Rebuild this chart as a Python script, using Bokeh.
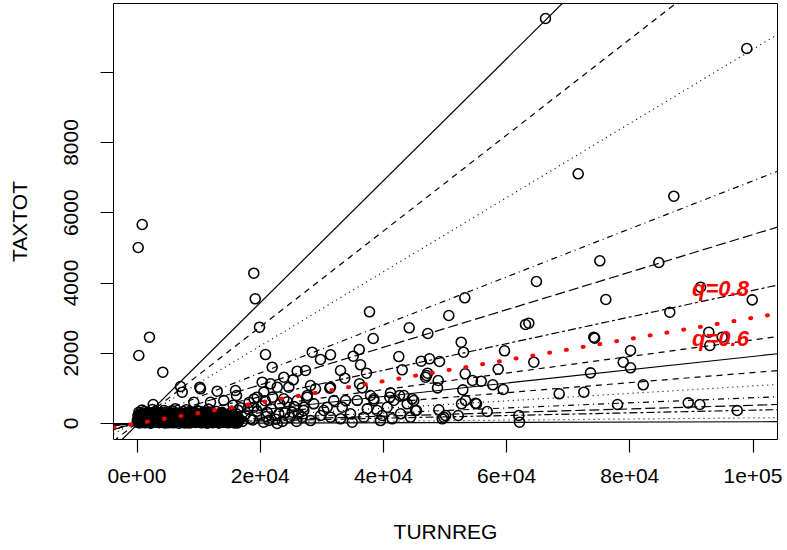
from bokeh.plotting import figure
from bokeh.models import Range1d, FixedTicker, Label
from bokeh.embed import file_html
from bokeh.resources import INLINE

# ---- data ----
# scattered observations (TURNREG, TAXTOT)
sx = [844, 195, 18961, 19188, 19887, 2029, 292, 4188, 20860, 21948, 7062, 7338, 10308, 13020, 15990, 2630,
      26007, 27354, 66316, 98993, 71623, 87148, 75135, 84711, 64845, 76109, 91478, 99874, 63069, 63610,
      86494, 74157, 74300, 92828, 92990, 95000, 80117, 78929, 80117, 64420, 73621, 82177, 68539, 72540,
      78005, 89482, 91365, 97437, 53215, 37744, 50618, 44188, 47209, 38344, 31413, 36072, 35098, 36283,
      33036, 33735, 37256, 42501, 43053, 46137, 47485, 49108, 52631, 53004, 59660, 58637, 47160, 46836,
      48897, 48783, 53280, 54466, 55878, 57760, 59449, 52891, 42614, 36121, 36559, 41153, 38442, 44675,
      45374, 48994, 52680, 53329, 52145, 49806, 54953, 56851, 61983, 62096, 31413, 28442, 29790, 46998,
      28166, 28978, 31300, 55115, 50082, 49546, 44936]
sy = [5666, 5011, 4279, 3550, 2742, 2457, 1936, 1461, 1964, 1603, 1053, 891, 988, 920, 940, 541,
      1489, 1509, 11530, 10676, 7109, 6471, 4632, 4584, 4043, 3530, 3881, 3521, 2819, 2856,
      3169, 2457, 2430, 2599, 2221, 2457, 2078, 1745, 1586, 1745, 1443, 1102, 846, 891,
      541, 589, 541, 370, 3579, 3180, 3075, 2725, 2562, 2420, 1956, 2107, 1916, 1671,
      1509, 1290, 1432, 1907, 1529, 1774, 1842, 1765, 2315, 2030, 2070, 1546, 1432, 1318,
      1224, 1016, 1415, 1224, 1204, 1102, 968, 959, 797, 1130, 1016, 874, 703, 703,
      370, 390, 561, 655, 228, 180, 578, 342, 228, 38, 1034, 2030, 1822, 1367,
      1082, 988, 1005, 561, 228, 134, 655]

# moderately dense zone
mx = [10195, 16153, 20325, 21673, 22760, 23832, 25357, 24642, 27630, 19513, 20585, 23832, 26007, 27078,
      11932, 14091, 9221, 18961, 21137, 23020, 25195, 26819, 22760, 20536, 18425,
      15200, 16000, 16800, 17500, 18200, 18800, 19500, 20200, 21000, 21800, 22500, 23200, 24000, 24800,
      25500, 26200, 15600, 17100, 19000, 20800, 22000, 24400, 25900, 16400, 18000, 21400, 23600,
      27630, 28702, 30325, 31949, 33312, 34660, 35747, 37371, 38442, 39806, 40617, 41689, 42776, 43864,
      45212, 28166, 31413, 34935, 39530, 44400, 29790, 33036, 36819, 41429, 27078, 30877, 33848, 37906,
      38993, 41040, 43313]
my = [1034, 797, 1176, 1130, 1034, 1318, 1244, 1034, 797, 749, 891, 703, 655, 464,
      606, 655, 606, 464, 322, 276, 322, 180, 0, 38, 134,
      300, 150, 450, 250, 600, 100, 350, 500, 200, 420, 120, 550, 300, 180,
      480, 280, 520, 60, 700, 650, 750, 620, 60, 380, 420, 90, 60,
      749, 561, 370, 655, 464, 276, 655, 418, 655, 228, 464, 655, 276, 561,
      370, 85, 180, 38, 85, 180, 228, 134, 180, 134, 370, 464, 655, 797,
      370, 749, 797]

# dense core near the origin
cx = [100, 450, 900, 1300, 1800, 2200, 2700, 3100, 3600, 4100, 4500, 5000, 5400, 5900, 6300, 6800, 7300,
      7700, 8200, 8600, 9100, 9500, 10000, 10500, 10900, 11400, 11800, 12300, 12800, 13300, 13800,
      250, 700, 1100, 1550, 2000, 2450, 2900, 3350, 3800, 4300, 4750, 5200, 5650, 6100, 6550, 7000,
      7500, 7950, 8400, 8850, 9300, 9800, 10250, 10700, 11150, 11600, 12100, 12550, 13050, 13550, 14100,
      150, 600, 1000, 1450, 1900, 2350, 2800, 3250, 3700, 4200, 4650, 5100, 5550, 6000, 6450, 6900,
      7400, 7850, 8300, 8750, 9200, 9700, 10150, 10600, 11050, 11500, 12000, 12450, 12950, 13450,
      300, 1200, 2100, 3000, 3900, 4800, 5700, 6600, 7500, 8400, 9300, 10200, 11100, 12000, 12900,
      13800, 800, 2500, 4400, 6200, 8000, 9800, 11600]
cy = [30, 15, 45, 20, 60, 10, 35, 50, 25, 40, 15, 55, 30, 20, 45, 10, 35,
      60, 25, 15, 50, 30, 40, 20, 55, 10, 35, 25, 45, 15, 30,
      120, 140, 100, 150, 130, 110, 145, 125, 105, 135, 150, 115, 140, 100, 130, 120,
      145, 110, 135, 125, 150, 105, 140, 115, 130, 100, 145, 120, 135, 110, 125,
      220, 240, 205, 250, 230, 215, 260, 225, 245, 210, 235, 255, 220, 240, 200, 230,
      250, 215, 245, 225, 205, 240, 260, 220, 235, 210, 250, 230, 215, 240,
      320, 340, 300, 350, 310, 330, 360, 300, 340, 320, 310, 350, 330, 300, 340,
      320, 380, 400, 370, 420, 390, 360, 410]

# further observations inside the dense core
ex = [50, 550, 1000, 1500, 1950, 2400, 2850, 3300, 3750, 4200, 4700, 5150, 5600, 6050, 6500, 6950,
      7450, 7900, 8350, 8800, 9250, 9750, 10200, 10650, 11100, 11550, 12050, 12500, 13000, 13500,
      14000, 14500, 15000, 15500, 16000, 16500,
      350, 800, 1250, 1700, 2150, 2600, 3050, 3500, 3950, 4400, 4900, 5350, 5800, 6250, 6700, 7150,
      7650, 8100, 8550, 9000, 9450, 9950, 10400, 10850, 11300, 11750, 12250, 12700, 13200, 13700,
      14250, 14750, 15250, 15750, 16250,
      500, 1700, 2900, 4100, 5300, 6500, 7700, 8900, 10100, 11300, 12500, 13700, 14700, 15600, 16400,
      1100, 3500, 5900, 8300, 10700, 13100,
      14300, 14800, 15300, 15800, 16300, 14600, 15100, 15600, 16100, 16600, 14400, 14900, 15400, 15900]
ey = [80, 70, 90, 75, 85, 65, 95, 70, 80, 90, 75, 85, 65, 80, 95, 70,
      85, 75, 90, 65, 80, 70, 95, 85, 75, 90, 70, 80, 65, 85,
      75, 90, 70, 80, 85, 65,
      180, 172, 191, 166, 184, 177, 196, 169, 181, 188, 163, 186, 174, 193, 171, 182,
      189, 167, 185, 176, 194, 170, 179, 192, 164, 187, 175, 197, 168, 183,
      190, 162, 186, 173, 195,
      270, 285, 260, 290, 275, 265, 280, 295, 270, 285, 260, 275, 240, 210, 160,
      290, 280, 300, 270, 290, 265,
      30, 20, 45, 15, 35, 130, 115, 140, 105, 120, 230, 215, 190, 205]

gx = [200, 650, 1150, 1600, 2050, 2500, 2950, 3400, 3850, 4350, 4800, 5250, 5700, 6150, 6600, 7050,
      7550, 8000, 8450, 8900, 9400, 9850, 10300, 10750, 11200, 11650, 12150, 12600, 13100, 13600,
      14150, 14650, 15150, 15650, 16150,
      420, 870, 1380, 1820, 2280, 2720, 3180, 3620, 4080, 4520, 5000, 5450, 5900, 6380, 6820, 7280,
      7720, 8180, 8620, 9080, 9550, 10000, 10480, 10920, 11380, 11820, 12300, 12780, 13250, 13720,
      14300, 14800, 15300, 15800, 16300]
gy = [50, 110, 160, 210, 260, 300, 45, 105, 155, 205, 255, 310, 40, 100, 150, 200,
      250, 290, 55, 115, 165, 215, 265, 305, 35, 95, 145, 195, 245, 285,
      60, 120, 170, 220, 270,
      260, 200, 140, 90, 25, 310, 250, 190, 130, 80, 20, 300, 245, 185, 125, 70,
      15, 295, 255, 195, 135, 85, 30, 305, 240, 180, 120, 75, 22, 290,
      235, 175, 110, 60, 18]

# quantile regression lines (intercept, slope), top to bottom
line_intercepts = [-35, 20, 95, 70, 30, 0, 20, 10, 20, 10, 5, 0, 0, 0, 0]
line_slopes = [0.1737, 0.1365, 0.1056, 0.0684, 0.0535, 0.0379, 0.0236, 0.019, 0.0143, 0.0106,
               0.0073, 0.0052, 0.0038, 0.0016, 0.0005]
line_styles = ["solid", "6 5", "1 4", "1 4 6 4", "10 4", "3 3 8 3",
               "6 5", "solid", "6 5", "1 4", "1 4 6 4", "10 4", "3 3 8 3",
               "1 4", "solid"]
red_intercept = 0
red_slope = 0.0301

q_labels = ["q=0.8", "q=0.6"]
q_label_x = [94725, 94725]
q_label_y = [3843, 2420]

x_ticks = [0, 20000, 40000, 60000, 80000, 100000]
x_tick_labels = ["0e+00", "2e+04", "4e+04", "6e+04", "8e+04", "1e+05"]
y_ticks = [0, 2000, 4000, 6000, 8000, 10000]
y_tick_labels = ["0", "2000", "4000", "6000", "8000", ""]

X0, X1 = -3815, 103977
Y0, Y1 = -455, 11957

FONT = "Liberation Sans"

p = figure(width=787, height=550, output_backend="svg", toolbar_location=None,
           x_range=Range1d(X0, X1), y_range=Range1d(Y0, Y1),
           min_border_left=113, min_border_right=10, min_border_top=3, min_border_bottom=111)
p.xgrid.visible = False
p.ygrid.visible = False
p.outline_line_color = "black"
p.outline_line_width = 1
p.outline_line_alpha = 1
p.background_fill_color = "white"
p.border_fill_color = "white"

p.xaxis.ticker = FixedTicker(ticks=x_ticks)
p.xaxis.major_label_overrides = {t: l for t, l in zip(x_ticks, x_tick_labels)}
p.yaxis.ticker = FixedTicker(ticks=y_ticks)
p.yaxis.major_label_overrides = {t: l for t, l in zip(y_ticks, y_tick_labels)}
for ax in (p.xaxis[0], p.yaxis[0]):
    ax.axis_line_color = None
    ax.major_tick_out = 13
    ax.major_tick_in = 0
    ax.major_tick_line_color = "black"
    ax.major_tick_line_width = 1.2
    ax.minor_tick_out = 0
    ax.minor_tick_in = 0
    ax.major_label_text_font = FONT
    ax.major_label_text_font_size = "21px"
    ax.major_label_text_color = "black"
    ax.axis_label_text_font = FONT
    ax.axis_label_text_font_size = "21px"
    ax.axis_label_text_font_style = "normal"
    ax.axis_label_text_color = "black"
p.xaxis.axis_label = "TURNREG"
p.yaxis.axis_label = "TAXTOT"
p.yaxis.major_label_orientation = "vertical"
p.xaxis.major_label_standoff = 16
p.xaxis.axis_label_standoff = 34
p.yaxis.major_label_standoff = 22
p.yaxis.axis_label_standoff = 31

px = sx + mx + cx + ex + gx
py = sy + my + cy + ey + gy
p.scatter(px, py, marker="circle", size=10, fill_color=None, line_color="black", line_width=1.6)

for b, m, d in zip(line_intercepts, line_slopes, line_styles):
    p.line([X0, X1], [b + m * X0, b + m * X1], line_color="black", line_width=1.2, line_dash=d)

p.line([X0, X1], [red_intercept + red_slope * X0, red_intercept + red_slope * X1],
       line_color="red", line_width=4, line_dash="1 16", line_cap="round")

for t, lx, ly in zip(q_labels, q_label_x, q_label_y):
    p.add_layout(Label(x=lx, y=ly, text=t, text_color="red", text_font=FONT,
                       text_font_size="22px", text_font_style="bold italic",
                       text_align="center", text_baseline="middle"))

open("out.html", "w").write(file_html(p, INLINE))
